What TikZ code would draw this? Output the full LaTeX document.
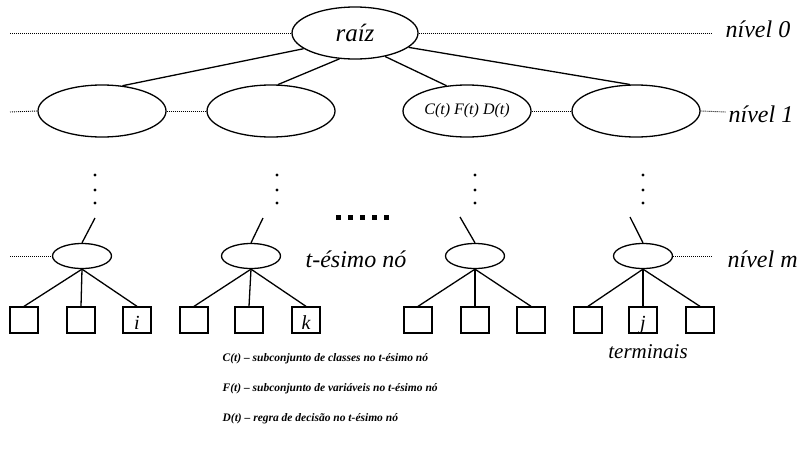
\documentclass[tikz,border=0pt]{standalone}
\usepackage{fontspec}
\setmainfont{Liberation Serif}
\usetikzlibrary{positioning,shapes.geometric}

\begin{document}
\begin{tikzpicture}[x=1pt,y=-1pt,line width=1.3pt,
	grande/.style={draw,ellipse,inner sep=0pt,minimum width=128pt,minimum height=52pt},
	pequena/.style={draw,ellipse,inner sep=0pt,minimum width=59pt,minimum height=25pt},
	folha/.style={draw,inner sep=0pt,minimum width=28pt,minimum height=26pt,
		text height=19pt,text depth=0pt,font=\fontsize{20}{20}\selectfont\itshape},
	nivel/.style={line width=0.9pt,dash pattern=on 0.9pt off 1.1pt},
	rotulo/.style={inner sep=0pt,font=\fontsize{24}{24}\selectfont\itshape},
	legenda/.style={anchor=base west,inner sep=0pt,font=\fontsize{11.5}{12}\selectfont\bfseries\itshape}]
	\useasboundingbox (0,0) rectangle (803,461);

	% raiz e nivel 1
	\node[grande,minimum width=126pt,font=\fontsize{25}{25}\selectfont\itshape] (raiz) at (355,33) {raíz};
	\node[grande] (n1) at (102,111) {};
	\node[grande] (n2) at (271,111) {};
	\node[grande,font=\fontsize{16}{16}\selectfont\itshape] (n3) at (467,111) {C(t) F(t) D(t)};
	\node[grande] (n4) at (636,111) {};
	\path (raiz.197) edge (n1.51)
		(raiz.239) edge (n2.75)
		(raiz.322) edge (n3.129)
		(raiz.345) edge (n4.103);

	% reticencias verticais
	\foreach \x in {95,277,475,643}
		\foreach \y in {175,190,203}
			\fill (\x,\y) circle (1.7);
	\foreach \x in {338,350,362,374,386}
		\fill (\x-2.5,215) rectangle ++(5,5);

	% nivel m
	\node[pequena] (m1) at (82,256) {};
	\node[pequena] (m2) at (251,256) {};
	\node[pequena] (m3) at (475,256) {};
	\node[pequena] (m4) at (643,256) {};
	\coordinate (u1) at (95,218);
	\coordinate (u2) at (263,218);
	\coordinate (u3) at (460,217);
	\coordinate (u4) at (630,217);
	\path (u1) edge (m1.north) (u2) edge (m2.north)
		(u3) edge (m3.north) (u4) edge (m4.north);
	\node[rotulo,anchor=base west] (tesimo) at (305,267) {t-ésimo nó};

	% terminais
	\node[folha] (b1) at (24,320) {};
	\node[folha] (b2) at (81,320) {};
	\node[folha] (b3) at (137,320) {i};
	\node[folha] (b4) at (194,320) {};
	\node[folha] (b5) at (249,320) {};
	\node[folha] (b6) at (306,320) {k};
	\node[folha] (b7) at (418,320) {};
	\node[folha] (b8) at (475,320) {};
	\node[folha] (b9) at (531,320) {};
	\node[folha] (b10) at (588,320) {};
	\node[folha] (b11) at (643,320) {j};
	\node[folha] (b12) at (700,320) {};
	\path (m1.south) edge (b1.north) edge (b2.north) edge (b3.north)
		(m2.south) edge (b4.north) edge (b5.north) edge (b6.north)
		(m3.south) edge (b7.north) edge (b8.north) edge (b9.north)
		(m4.south) edge (b10.north) edge (b11.north) edge (b12.north);
	\node[inner sep=0pt,anchor=base,font=\fontsize{21}{21}\selectfont\itshape] (term) at (648,358) {terminais};

	% niveis (pontilhado)
	\node[rotulo,anchor=base west] (niv0) at (725,37) {nível 0};
	\node[rotulo,anchor=base west] (niv1) at (728,122) {nível 1};
	\node[rotulo,anchor=base west] (nivm) at (727,267) {nível m};
	\coordinate (e0) at (10,33);
	\coordinate (e1) at (10,112);
	\coordinate (em) at (10,256);
	\coordinate (d0) at (712,33);
	\coordinate (d1) at (726,112);
	\coordinate (dm) at (712,256);
	\path[nivel] (e0) edge (raiz.west) (raiz.east) edge (d0)
		(e1) edge (n1.west) (n1.east) edge (n2.west)
		(n3.east) edge (n4.west) (n4.east) edge (d1)
		(em) edge (m1.west) (m4.east) edge (dm);

	% legenda
	\node[legenda] (legC) at (222,361) {C(t) – subconjunto de classes no t-ésimo nó};
	\node[legenda] (legF) at (222,391) {F(t) – subconjunto de variáveis no t-ésimo nó};
	\node[legenda] (legD) at (222,421) {D(t) – regra de decisão no t-ésimo nó};
\end{tikzpicture}
\end{document}
